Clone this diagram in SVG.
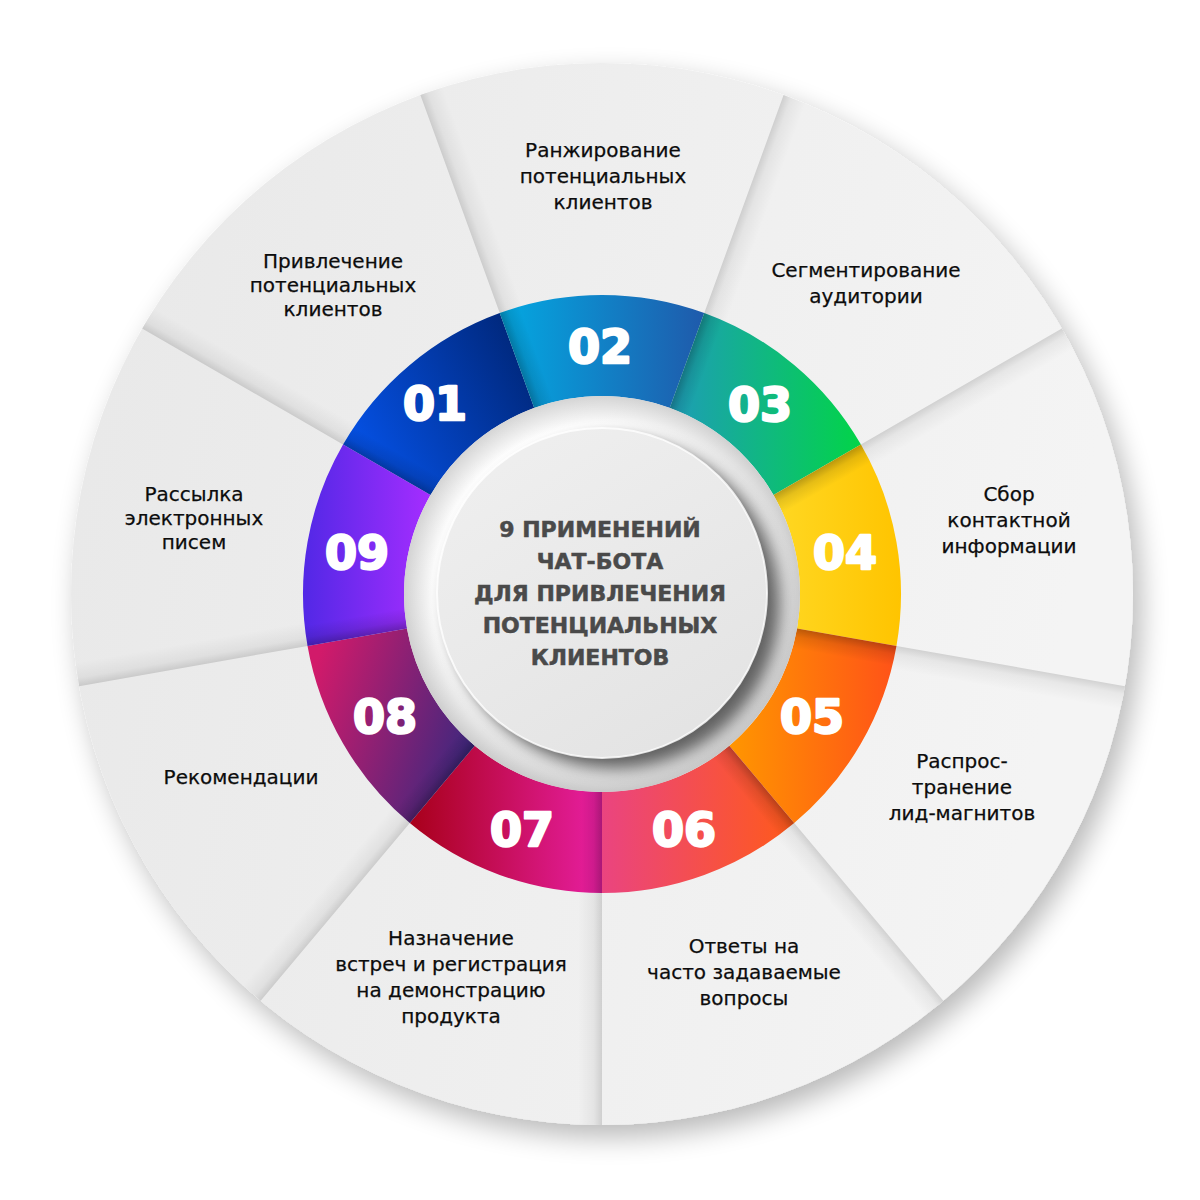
<svg xmlns="http://www.w3.org/2000/svg" xmlns:xlink="http://www.w3.org/1999/xlink" width="1200" height="1200" viewBox="0 0 1200 1200">
<style>
.lbl{font-family:"DejaVu Sans","Liberation Sans",sans-serif;font-size:20px;fill:#0c0c0c;stroke:#0c0c0c;stroke-width:0.25;text-anchor:middle}
.num{font-family:"DejaVu Sans","Liberation Sans",sans-serif;font-weight:bold;font-size:46px;fill:#fff;stroke:#fff;stroke-width:2.4;stroke-linejoin:round;text-anchor:middle}
.ctr{font-family:"DejaVu Sans","Liberation Sans",sans-serif;font-weight:bold;font-size:22px;fill:#4a4a4a;stroke:#4a4a4a;stroke-width:0.5;text-anchor:middle}
</style>
<defs>
<filter id="wheelShadow" x="-10%" y="-10%" width="125%" height="125%">
<feGaussianBlur in="SourceAlpha" stdDeviation="14"/>
<feOffset dx="8" dy="12" result="b"/>
<feComponentTransfer><feFuncA type="linear" slope="0.28"/></feComponentTransfer>
<feMerge><feMergeNode/><feMergeNode in="SourceGraphic"/></feMerge>
</filter>
<filter id="blur8" x="-20%" y="-20%" width="140%" height="140%"><feGaussianBlur stdDeviation="8"/></filter>
<linearGradient id="bgGrad" x1="0" y1="0" x2="1" y2="0.2">
<stop offset="0" stop-color="#e8e8e8"/><stop offset="1" stop-color="#f4f4f4"/>
</linearGradient>
<linearGradient id="shOuter" gradientUnits="userSpaceOnUse" x1="0" y1="0" x2="22.5" y2="-8.2">
<stop offset="0" stop-color="#000" stop-opacity="0.14"/><stop offset="0.35" stop-color="#000" stop-opacity="0.05"/><stop offset="1" stop-color="#000" stop-opacity="0"/>
</linearGradient>
<linearGradient id="shRing" gradientUnits="userSpaceOnUse" x1="0" y1="0" x2="18.8" y2="-6.8">
<stop offset="0" stop-color="#000" stop-opacity="0.26"/><stop offset="0.4" stop-color="#000" stop-opacity="0.1"/><stop offset="1" stop-color="#000" stop-opacity="0"/>
</linearGradient>
<path id="wOuter" d="M -181.61 -498.98 A 531 531 0 0 1 181.61 -498.98 L 102.26 -280.97 A 299 299 0 0 0 -102.26 -280.97 Z"/>
<path id="wRing" d="M -102.26 -280.97 A 299 299 0 0 1 102.26 -280.97 L 67.72 -186.06 A 198 198 0 0 0 -67.72 -186.06 Z"/>
<linearGradient id="g01" x1="0" y1="0.75" x2="1" y2="0.25"><stop offset="0" stop-color="#0553ea"/><stop offset="1" stop-color="#00277a"/></linearGradient>
<linearGradient id="g02" x1="0" y1="0" x2="1" y2="0"><stop offset="0" stop-color="#03a9e2"/><stop offset="1" stop-color="#1f5aab"/></linearGradient>
<linearGradient id="g03" x1="0" y1="0" x2="1" y2="0"><stop offset="0" stop-color="#1e9cb8"/><stop offset="1" stop-color="#02d448"/></linearGradient>
<linearGradient id="g04" x1="0" y1="0" x2="1" y2="0"><stop offset="0" stop-color="#ffd823"/><stop offset="1" stop-color="#ffc400"/></linearGradient>
<linearGradient id="g05" x1="0" y1="0" x2="1" y2="0"><stop offset="0" stop-color="#ff9600"/><stop offset="1" stop-color="#ff5218"/></linearGradient>
<linearGradient id="g06" x1="0" y1="0" x2="1" y2="0"><stop offset="0" stop-color="#ea4480"/><stop offset="1" stop-color="#ff5a1a"/></linearGradient>
<linearGradient id="g07" x1="0" y1="0" x2="1" y2="0"><stop offset="0" stop-color="#a8001a"/><stop offset="1" stop-color="#e81fa2"/></linearGradient>
<linearGradient id="g08" x1="0" y1="0.3" x2="1" y2="0.7"><stop offset="0" stop-color="#d21a6a"/><stop offset="1" stop-color="#37287f"/></linearGradient>
<linearGradient id="g09" x1="0" y1="0" x2="1" y2="0"><stop offset="0" stop-color="#5228e6"/><stop offset="1" stop-color="#a52dff"/></linearGradient>
<linearGradient id="whiteRing" x1="0.2" y1="0" x2="0.8" y2="1"><stop offset="0" stop-color="#ffffff"/><stop offset="1" stop-color="#ececec"/></linearGradient>
<radialGradient id="ringInner" cx="602" cy="594" r="198" gradientUnits="userSpaceOnUse"><stop offset="0.86" stop-color="#000" stop-opacity="0"/><stop offset="1" stop-color="#000" stop-opacity="0.16"/></radialGradient>
<linearGradient id="disk" x1="0.2" y1="0" x2="0.8" y2="1"><stop offset="0" stop-color="#efefef"/><stop offset="1" stop-color="#e3e3e3"/></linearGradient>
<clipPath id="clipWhite"><circle cx="602" cy="594" r="198"/></clipPath>
</defs>

<g id="wheel-background">
<circle cx="602" cy="594" r="531" fill="url(#bgGrad)" filter="url(#wheelShadow)"/>
<g id="sector-shadows" transform="translate(602 594)">
<use xlink:href="#wOuter" href="#wOuter" fill="url(#shOuter)"/>
<use xlink:href="#wOuter" href="#wOuter" fill="url(#shOuter)" transform="rotate(40)"/>
<use xlink:href="#wOuter" href="#wOuter" fill="url(#shOuter)" transform="rotate(80)"/>
<use xlink:href="#wOuter" href="#wOuter" fill="url(#shOuter)" transform="rotate(120)"/>
<use xlink:href="#wOuter" href="#wOuter" fill="url(#shOuter)" transform="rotate(160)"/>
<use xlink:href="#wOuter" href="#wOuter" fill="url(#shOuter)" transform="rotate(200)"/>
<use xlink:href="#wOuter" href="#wOuter" fill="url(#shOuter)" transform="rotate(240)"/>
<use xlink:href="#wOuter" href="#wOuter" fill="url(#shOuter)" transform="rotate(280)"/>
<use xlink:href="#wOuter" href="#wOuter" fill="url(#shOuter)" transform="rotate(320)"/>
</g>
</g>

<g id="item-01">
<path d="M 343.06 444.5 A 299 299 0 0 1 499.74 313.03 L 534.28 407.94 A 198 198 0 0 0 430.53 495 Z" fill="url(#g01)"/>
<text class="num" x="435" y="420">01</text>
<text class="lbl" x="333"><tspan x="333" y="268">Привлечение</tspan><tspan x="333" y="292">потенциальных</tspan><tspan x="333" y="316">клиентов</tspan></text>
</g>
<g id="item-02">
<path d="M 499.74 313.03 A 299 299 0 0 1 704.26 313.03 L 669.72 407.94 A 198 198 0 0 0 534.28 407.94 Z" fill="url(#g02)"/>
<text class="num" x="600" y="363">02</text>
<text class="lbl" x="603"><tspan x="603" y="157">Ранжирование</tspan><tspan x="603" y="183">потенциальных</tspan><tspan x="603" y="209">клиентов</tspan></text>
</g>
<g id="item-03">
<path d="M 704.26 313.03 A 299 299 0 0 1 860.94 444.5 L 773.47 495 A 198 198 0 0 0 669.72 407.94 Z" fill="url(#g03)"/>
<text class="num" x="760" y="421">03</text>
<text class="lbl" x="866"><tspan x="866" y="277">Сегментирование</tspan><tspan x="866" y="303">аудитории</tspan></text>
</g>
<g id="item-04">
<path d="M 860.94 444.5 A 299 299 0 0 1 896.46 645.92 L 796.99 628.38 A 198 198 0 0 0 773.47 495 Z" fill="url(#g04)"/>
<text class="num" x="845" y="569">04</text>
<text class="lbl" x="1009"><tspan x="1009" y="501">Сбор</tspan><tspan x="1009" y="527">контактной</tspan><tspan x="1009" y="553">информации</tspan></text>
</g>
<g id="item-05">
<path d="M 896.46 645.92 A 299 299 0 0 1 794.19 823.05 L 729.27 745.68 A 198 198 0 0 0 796.99 628.38 Z" fill="url(#g05)"/>
<text class="num" x="812" y="733">05</text>
<text class="lbl" x="962"><tspan x="962" y="768">Распрос-</tspan><tspan x="962" y="794">транение</tspan><tspan x="962" y="820">лид-магнитов</tspan></text>
</g>
<g id="item-06">
<path d="M 794.19 823.05 A 299 299 0 0 1 602 893 L 602 792 A 198 198 0 0 0 729.27 745.68 Z" fill="url(#g06)"/>
<text class="num" x="684" y="846">06</text>
<text class="lbl" x="744"><tspan x="744" y="953">Ответы на</tspan><tspan x="744" y="979">часто задаваемые</tspan><tspan x="744" y="1005">вопросы</tspan></text>
</g>
<g id="item-07">
<path d="M 602 893 A 299 299 0 0 1 409.81 823.05 L 474.73 745.68 A 198 198 0 0 0 602 792 Z" fill="url(#g07)"/>
<text class="num" x="522" y="846">07</text>
<text class="lbl" x="451"><tspan x="451" y="945">Назначение</tspan><tspan x="451" y="971">встреч и регистрация</tspan><tspan x="451" y="997">на демонстрацию</tspan><tspan x="451" y="1023">продукта</tspan></text>
</g>
<g id="item-08">
<path d="M 409.81 823.05 A 299 299 0 0 1 307.54 645.92 L 407.01 628.38 A 198 198 0 0 0 474.73 745.68 Z" fill="url(#g08)"/>
<text class="num" x="385" y="733">08</text>
<text class="lbl" x="241" y="784">Рекомендации</text>
</g>
<g id="item-09">
<path d="M 307.54 645.92 A 299 299 0 0 1 343.06 444.5 L 430.53 495 A 198 198 0 0 0 407.01 628.38 Z" fill="url(#g09)"/>
<text class="num" x="357" y="569">09</text>
<text class="lbl" x="194"><tspan x="194" y="501">Рассылка</tspan><tspan x="194" y="525">электронных</tspan><tspan x="194" y="549">писем</tspan></text>
</g>

<g id="ring-shadows" transform="translate(602 594)">
<use xlink:href="#wRing" href="#wRing" fill="url(#shRing)"/>
<use xlink:href="#wRing" href="#wRing" fill="url(#shRing)" transform="rotate(40)"/>
<use xlink:href="#wRing" href="#wRing" fill="url(#shRing)" transform="rotate(80)"/>
<use xlink:href="#wRing" href="#wRing" fill="url(#shRing)" transform="rotate(120)"/>
<use xlink:href="#wRing" href="#wRing" fill="url(#shRing)" transform="rotate(160)"/>
<use xlink:href="#wRing" href="#wRing" fill="url(#shRing)" transform="rotate(200)"/>
<use xlink:href="#wRing" href="#wRing" fill="url(#shRing)" transform="rotate(240)"/>
<use xlink:href="#wRing" href="#wRing" fill="url(#shRing)" transform="rotate(280)"/>
<use xlink:href="#wRing" href="#wRing" fill="url(#shRing)" transform="rotate(320)"/>
</g>

<g id="center">
<circle cx="602" cy="594" r="198" fill="url(#whiteRing)"/>
<circle cx="602" cy="594" r="198" fill="url(#ringInner)"/>
<g clip-path="url(#clipWhite)">
<circle cx="614" cy="603" r="166" fill="#000" opacity="0.6" filter="url(#blur8)"/>
</g>
<circle cx="602" cy="593" r="165" fill="url(#disk)" stroke="#ffffff" stroke-opacity="0.8" stroke-width="2"/>
<text class="ctr"><tspan x="600" y="537">9 ПРИМЕНЕНИЙ</tspan><tspan x="600" y="569">ЧАТ-БОТА</tspan><tspan x="600" y="601">ДЛЯ ПРИВЛЕЧЕНИЯ</tspan><tspan x="600" y="633">ПОТЕНЦИАЛЬНЫХ</tspan><tspan x="600" y="665">КЛИЕНТОВ</tspan></text>
</g>
<g id="connectors"/>
</svg>
